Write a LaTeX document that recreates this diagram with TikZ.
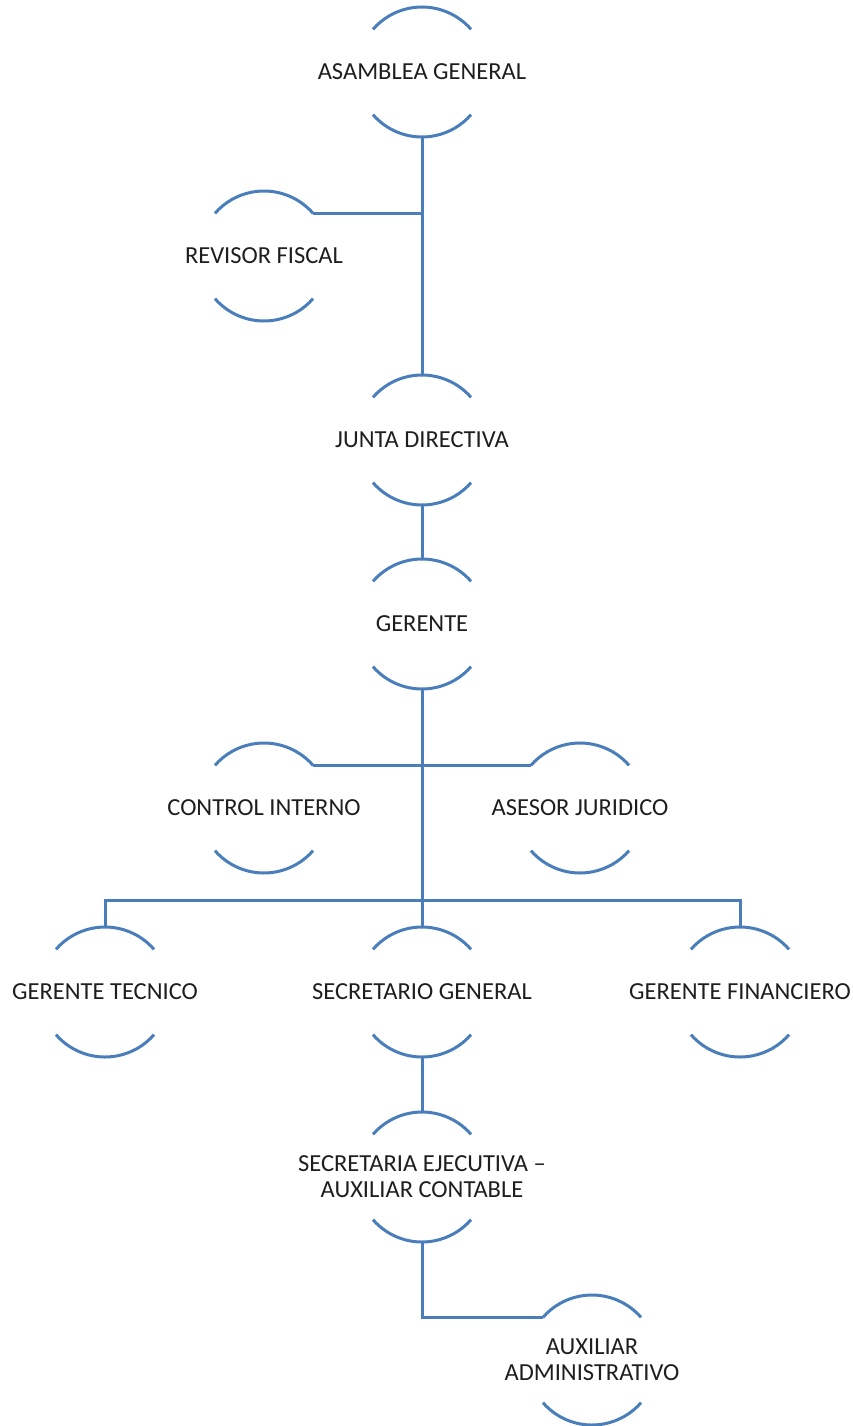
\documentclass[tikz,border=0pt]{standalone}
\usepackage{fontspec}
\setmainfont{Carlito}
\definecolor{lineblue}{HTML}{4A7EBB}
\definecolor{txtgray}{HTML}{1E1E1E}
\begin{document}
\begin{tikzpicture}[x=1pt,y=1pt,
  unit/.style={circle,minimum size=130pt,inner sep=0pt,outer sep=0pt,draw=none},
  txt/.style={font=\fontsize{24.5}{26}\selectfont,text=txtgray,align=center,inner sep=0pt},
  arcline/.style={draw=lineblue,line width=3pt},
  conn/.style={draw=lineblue,line width=3pt}]
\useasboundingbox (0,0) rectangle (853,-1426);
\node[unit,label={[txt]center:ASAMBLEA GENERAL}] (ag) at (422,-72) {};
\node[unit,label={[txt]center:REVISOR FISCAL}] (rf) at (264,-256) {};
\node[unit,label={[txt]center:JUNTA DIRECTIVA}] (jd) at (422,-440) {};
\node[unit,label={[txt]center:GERENTE}] (ge) at (422,-624) {};
\node[unit,label={[txt]center:CONTROL INTERNO}] (ci) at (264,-808) {};
\node[unit,label={[txt]center:ASESOR JURIDICO}] (aj) at (580,-808) {};
\node[unit,label={[txt]center:GERENTE TECNICO}] (gt) at (105,-992) {};
\node[unit,label={[txt]center:SECRETARIO GENERAL}] (sg) at (422,-992) {};
\node[unit,label={[txt]center:GERENTE FINANCIERO}] (gf) at (740,-992) {};
\node[unit,label={[txt]center:SECRETARIA EJECUTIVA –\\AUXILIAR CONTABLE}] (se) at (422,-1177) {};
\node[unit,label={[txt]center:AUXILIAR\\ADMINISTRATIVO}] (aa) at (592,-1360) {};
\foreach \n in {ag,rf,jd,ge,ci,aj,gt,sg,gf,se,aa}{
  \draw[arcline] (\n.41) arc[start angle=41,end angle=139,radius=65];
  \draw[arcline] (\n.221) arc[start angle=221,end angle=319,radius=65];
}
\draw[conn] (ag.south) -- (jd.north);
\draw[conn] (rf.41) -- (rf.41 -| ag.south);
\draw[conn] (jd.south) -- (ge.north);
\draw[conn] (ge.south) -- (sg.north);
\draw[conn] (ci.41) -- (aj.139);
\coordinate (bus) at (422,-900);
\draw[conn] (gt.north) |- (bus) -| (gf.north);
\draw[conn] (sg.south) -- (se.north);
\draw[conn] (se.south) |- (aa.139);
\end{tikzpicture}
\end{document}
